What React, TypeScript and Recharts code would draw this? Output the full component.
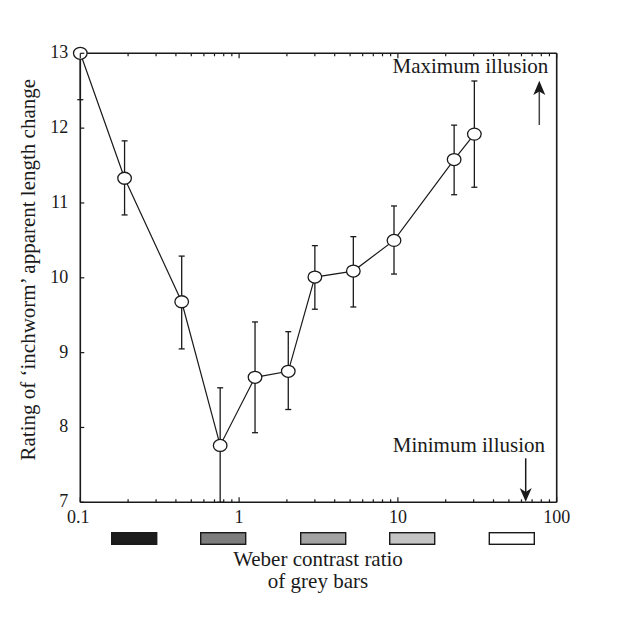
import React from 'react';
import { ComposedChart, Line, XAxis, YAxis, ErrorBar } from 'recharts';

const contrast = [0.1, 0.19, 0.435, 0.76, 1.26, 2.04, 3.0, 5.24, 9.45, 22.6, 30.3];
const rating = [13.0, 11.33, 9.68, 7.76, 8.67, 8.75, 10.01, 10.09, 10.5, 11.58, 11.92];
const errLow = [12.38, 10.84, 9.05, 7.0, 7.93, 8.24, 9.58, 9.61, 10.05, 11.11, 11.21];
const errHigh = [13.0, 11.83, 10.29, 8.53, 9.41, 9.28, 10.43, 10.55, 10.96, 12.04, 12.63];

const xMajorTicks = [0.1, 1, 10, 100];
const xTickLabels = ['0.1', '1', '10', '100'];
const xMinorTicks = [
  0.2, 0.3, 0.4, 0.5, 0.6, 0.7, 0.8, 0.9,
  2, 3, 4, 5, 6, 7, 8, 9,
  20, 30, 40, 50, 60, 70, 80, 90,
];
const yTicks = [7, 8, 9, 10, 11, 12, 13];

const swatchColors = ['#1c1c1c', '#7d7d7d', '#a3a3a3', '#c4c4c4', '#ffffff'];
const swatchLeft = [103.7, 192.7, 292.7, 381.7, 481.3];

const data = contrast.map((c, i) => ({
  x: c,
  y: rating[i],
  err: [rating[i] - errLow[i], errHigh[i] - rating[i]],
}));

const INK = '#1a1a1a';
const FONT = "'Liberation Serif', 'DejaVu Serif', serif";
const allXTicks = [...xMajorTicks, ...xMinorTicks].sort((a, b) => a - b);
const AX = 10;

const BottomTick = (props: any) => {
  const { x, y, payload } = props;
  const mi = xMajorTicks.indexOf(payload.value);
  const major = mi >= 0;
  return (
    <g>
      <line x1={x} x2={x} y1={y} y2={y - (major ? 5 : 3)} stroke={INK} strokeWidth={1.2} />
      {major && (
        <text x={x - (mi === 0 ? 2 : 0)} y={y + 21} textAnchor="middle" fontSize={18} fontFamily={FONT} fill={INK}>
          {xTickLabels[mi]}
        </text>
      )}
    </g>
  );
};

const TopTick = (props: any) => {
  const { x, y, payload } = props;
  const major = xMajorTicks.indexOf(payload.value) >= 0;
  return <line x1={x} x2={x} y1={y} y2={y + (major ? 5 : 3)} stroke={INK} strokeWidth={1.2} />;
};

const LeftTick = (props: any) => {
  const { x, y, payload } = props;
  return (
    <g>
      <line x1={x} x2={x + 4} y1={y} y2={y} stroke={INK} strokeWidth={1.2} />
      <text x={x - 12} y={y + 5} textAnchor="end" fontSize={18} fontFamily={FONT} fill={INK}>
        {payload.value}
      </text>
    </g>
  );
};

const RightTick = (props: any) => {
  const { x, y } = props;
  return <line x1={x} x2={x - 4} y1={y} y2={y} stroke={INK} strokeWidth={1.2} />;
};

const Dot = (p: any) => (
  <ellipse key={`d${p.index}`} cx={p.cx} cy={p.cy} rx={6.8} ry={6} fill="#fff" stroke={INK} strokeWidth={1.3} />
);

export default function App() {
  return (
    <div style={{ position: 'relative', width: 608, height: 600 }}>
      <ComposedChart
        width={600}
        height={520}
        data={data}
        margin={{ top: 45.3 - AX, right: 51.3 - AX, bottom: 25.7 - AX, left: 72.3 - AX }}
      >
        <XAxis
          xAxisId="bottom"
          dataKey="x"
          type="number"
          scale="log"
          domain={[0.1, 100]}
          ticks={allXTicks}
          interval={0}
          height={AX}
          tickSize={0}
          tickMargin={0}
          tickLine={false}
          tick={<BottomTick />}
          axisLine={{ stroke: INK, strokeWidth: 1.6 }}
        />
        <XAxis
          xAxisId="top"
          orientation="top"
          dataKey="x"
          type="number"
          scale="log"
          domain={[0.1, 100]}
          ticks={allXTicks}
          interval={0}
          height={AX}
          tickSize={0}
          tickMargin={0}
          tickLine={false}
          tick={<TopTick />}
          axisLine={{ stroke: INK, strokeWidth: 1.6 }}
        />
        <YAxis
          yAxisId="left"
          type="number"
          domain={[7, 13]}
          ticks={yTicks}
          interval={0}
          width={AX}
          tickSize={0}
          tickMargin={0}
          tickLine={false}
          tick={<LeftTick />}
          axisLine={{ stroke: INK, strokeWidth: 1.6 }}
        />
        <YAxis
          yAxisId="right"
          orientation="right"
          type="number"
          domain={[7, 13]}
          ticks={yTicks}
          interval={0}
          width={AX}
          tickSize={0}
          tickMargin={0}
          tickLine={false}
          tick={<RightTick />}
          axisLine={{ stroke: INK, strokeWidth: 1.6 }}
        />
        <Line
          xAxisId="bottom"
          yAxisId="left"
          dataKey="y"
          stroke={INK}
          strokeWidth={1.2}
          dot={Dot}
          activeDot={false}
          isAnimationActive={false}
        >
          <ErrorBar dataKey="err" direction="y" width={3} stroke={INK} strokeWidth={1.3} isAnimationActive={false} />
        </Line>
      </ComposedChart>
      <svg
        width={608}
        height={600}
        style={{ position: 'absolute', left: 0, top: 0, pointerEvents: 'none' }}
        fontFamily={FONT}
      >
        <text x={540.3} y={65.3} textAnchor="end" fontSize={21} fill={INK}>
          Maximum illusion
        </text>
        <line x1={531.3} x2={531.3} y1={117} y2={82} stroke="#444" strokeWidth={1.5} />
        <path d="M531.3 72.7 L537.3 87 L531.3 83.5 L525.3 87 Z" fill={INK} />
        <text x={537} y={444.3} textAnchor="end" fontSize={21} fill={INK}>
          Minimum illusion
        </text>
        <line x1={517.7} x2={517.7} y1={450.3} y2={485} stroke={INK} strokeWidth={1.5} />
        <path d="M517.7 493.7 L523.7 480 L517.7 484 L511.7 480 Z" fill={INK} />
        {swatchColors.map((c, i) => (
          <rect key={i} x={swatchLeft[i]} y={524.7} width={45} height={11.6} fill={c} stroke={INK} strokeWidth={1.4} />
        ))}
        <text x={310} y={558} textAnchor="middle" fontSize={21} fill={INK}>
          Weber contrast ratio
        </text>
        <text x={310} y={580} textAnchor="middle" fontSize={21} fill={INK}>
          of grey bars
        </text>
        <text
          x={27}
          y={261.7}
          textAnchor="middle"
          fontSize={21}
          fill={INK}
          transform="rotate(-90 27 261.7)"
        >
          Rating of ‘inchworm’ apparent length change
        </text>
      </svg>
    </div>
  );
}
